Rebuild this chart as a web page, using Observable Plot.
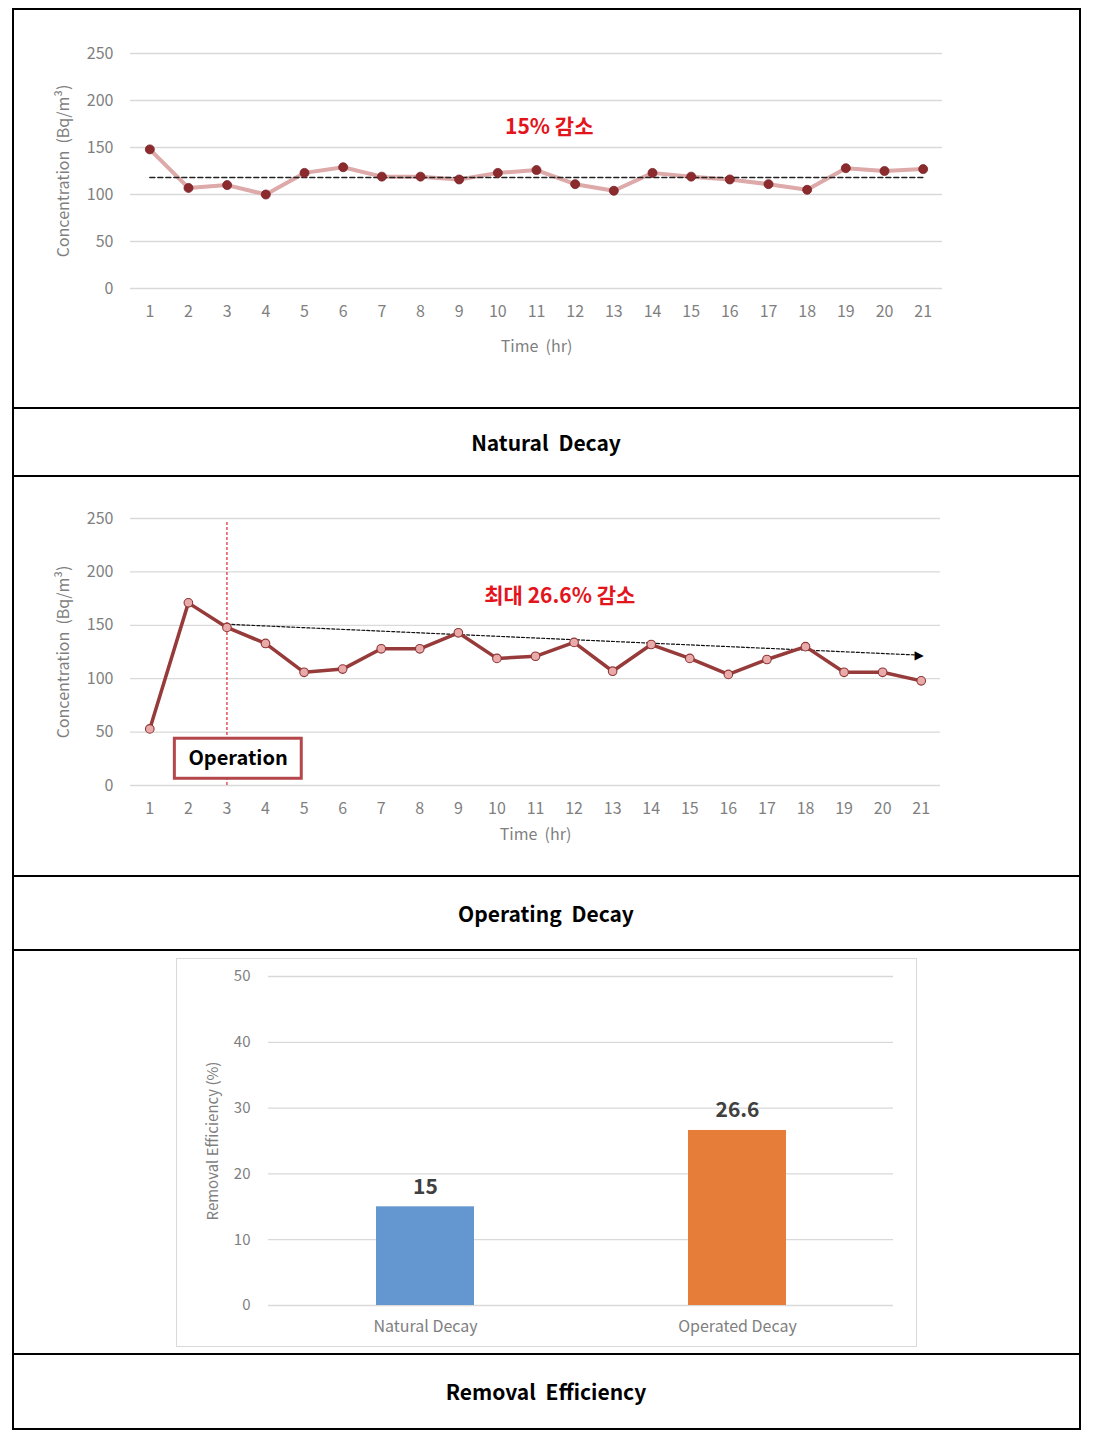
<!DOCTYPE html>
<html><head><meta charset="utf-8">
<script src="https://cdn.jsdelivr.net/npm/d3@7"></script>
<script src="https://cdn.jsdelivr.net/npm/@observablehq/plot@0.6"></script>
<style>
body{margin:0;background:#fff;font-family:"Noto Sans CJK KR","Noto Sans",sans-serif;}
#page{position:relative;width:1096px;height:1439px;overflow:hidden;background:#fff;}
.frame{position:absolute;left:12px;top:8px;width:1069px;height:1422px;border:2px solid #000;box-sizing:border-box;}
.hl{position:absolute;left:12px;width:1069px;height:2px;background:#000;}
.cap{position:absolute;left:12px;width:1068px;text-align:center;font-weight:bold;font-size:21px;color:#000;word-spacing:5px;}
.chart{position:absolute;left:12px;}
.chart svg{display:block;}
.inner{position:absolute;left:176px;top:958px;width:741px;height:389px;border:1.5px solid #d9d9d9;box-sizing:border-box;}
</style>
</head><body>
<div id="page">
  <div class="frame"></div>
  <div class="hl" style="top:407px"></div>
  <div class="hl" style="top:475px"></div>
  <div class="hl" style="top:875px"></div>
  <div class="hl" style="top:949px"></div>
  <div class="hl" style="top:1353px"></div>
  <div class="cap" style="top:408px;height:68px;line-height:68px">Natural Decay</div>
  <div class="cap" style="top:876px;height:74px;line-height:74px">Operating Decay</div>
  <div class="cap" style="top:1354px;height:75px;line-height:75px">Removal Efficiency</div>
  <div class="chart" id="c1" style="top:9px"></div>
  <div class="chart" id="c2" style="top:477px"></div>
  <div class="chart" id="c3" style="top:951px"></div>
  <div class="inner"></div>
</div>
<script>
// ---- data ----
const hours = [1,2,3,4,5,6,7,8,9,10,11,12,13,14,15,16,17,18,19,20,21];
const naturalConc = [148,107,110,100,123,129,119,119,116,123,126,111,104,123,119,116,111,105,128,125,127];
const operatingConc = [53,171,148,133,106,109,128,128,143,119,121,134,107,132,119,104,118,130,106,106,98];
const concTicks = [0,50,100,150,200,250];
const naturalTrendX = [1,21];
const naturalTrendY = [118,118];
const operatingTrendX = [3,21];
const operatingTrendY = [151,122];
const operationStart = 3;
const naturalNote = "15% 감소";
const operatingNote = "최대 26.6% 감소";
const effCategories = ["Natural Decay","Operated Decay"];
const effValues = [15,26.6];
const effColors = ["#6497d0","#e67e39"];
const effTicks = [0,10,20,30,40,50];

const FONT = '"Noto Sans CJK KR","Noto Sans",sans-serif';
const GRID = "#d9d9d9";
const TICKC = "#7f7f7f";

const natData = hours.map((h,i)=>({h, v: naturalConc[i]}));
const opData = hours.map((h,i)=>({h, v: operatingConc[i]}));
const natTrend = naturalTrendX.map((x,i)=>({x, y: naturalTrendY[i]}));
const opTrend = operatingTrendX.map((x,i)=>({x, y: operatingTrendY[i]}));
const effData = effCategories.map((c,i)=>({c, v: effValues[i]}));

function lineAxes(tickPadX, labelOffX){
  return [
    Plot.gridY(concTicks, {stroke: GRID, strokeOpacity: 1, strokeWidth: 1.3}),
    Plot.axisY(concTicks, {tickSize: 0, tickPadding: 17, fill: TICKC, fontSize: 16,
      label: "Concentration\u00a0 (Bq/m³)", labelAnchor: "center", labelOffset: 73, labelArrow: "none"}),
    Plot.axisX(hours, {tickSize: 0, tickPadding: tickPadX, fill: TICKC, fontSize: 16, tickFormat: d => String(d),
      label: "Time\u00a0 (hr)", labelAnchor: "center", labelOffset: labelOffX, labelArrow: "none"})
  ];
}

// ---- Chart 1: Natural decay ----
const p1 = Plot.plot({
  width: 1068, height: 399,
  marginLeft: 118, marginRight: 138, marginTop: 44, marginBottom: 120,
  x: {domain: [0.5, 21.5]},
  y: {domain: [0, 250]},
  style: {fontFamily: FONT, fontSize: "16.5px", color: TICKC, background: "transparent"},
  marks: [
    ...lineAxes(17, 63),
    Plot.line(natData, {x: "h", y: "v", stroke: "#dda9a9", strokeWidth: 4}),
    Plot.line(natTrend, {x: "x", y: "y", stroke: "#222", strokeWidth: 1.5, strokeDasharray: "5,3"}),
    Plot.dot(natData, {x: "h", y: "v", r: 4.5, fill: "#8c2b2e", stroke: "#7a2226", strokeWidth: 0.8}),
    Plot.text([naturalNote], {x: 11.33, y: 172, text: d => d, fill: "#e3141c", fontSize: 21, fontWeight: "bold"})
  ]
});
document.getElementById("c1").appendChild(p1);

// ---- Chart 2: Operating decay ----
const p2 = Plot.plot({
  width: 1068, height: 399,
  marginLeft: 118, marginRight: 140, marginTop: 41, marginBottom: 91,
  x: {domain: [0.5, 21.5]},
  y: {domain: [0, 250]},
  style: {fontFamily: FONT, fontSize: "16.5px", color: TICKC, background: "transparent"},
  marks: [
    ...lineAxes(17, 54),
    Plot.ruleX([operationStart], {y1: 0, y2: 248, stroke: "#e0393e", strokeWidth: 1.3, strokeDasharray: "3,2"}),
    Plot.line(opTrend, {x: "x", y: "y", stroke: "#111", strokeWidth: 1.2, strokeDasharray: "3,2"}),
    Plot.text([opTrend[1]], {x: "x", y: "y", text: () => "▶", fill: "#000", fontSize: 12, dx: -2, fontFamily: "DejaVu Sans"}),
    Plot.line(opData, {x: "h", y: "v", stroke: "#973a3a", strokeWidth: 3.5}),
    Plot.dot(opData, {x: "h", y: "v", r: 4.3, fill: "#e9aaaa", stroke: "#8e3536", strokeWidth: 1.1}),
    Plot.rect([0], {x1: 1.65, x2: 4.94, y1: 6.3, y2: 43.8, fill: "#fff", stroke: "#b3474b", strokeWidth: 3}),
    Plot.text(["Operation"], {x: 3.29, y: 25, text: d => d, fill: "#000", fontSize: 20, fontWeight: "bold"}),
    Plot.text([operatingNote], {x: 11.63, y: 177, text: d => d, fill: "#e3141c", fontSize: 21, fontWeight: "bold"})
  ]
});
document.getElementById("c2").appendChild(p2);

// ---- Chart 3: Removal efficiency ----
const p3 = Plot.plot({
  width: 1068, height: 403,
  marginLeft: 256, marginRight: 187, marginTop: 25, marginBottom: 49,
  x: {domain: effCategories, type: "band", paddingInner: 0.686, paddingOuter: 0.343},
  y: {domain: [0, 50]},
  color: {domain: effCategories, range: effColors},
  style: {fontFamily: FONT, fontSize: "16px", color: TICKC, background: "transparent"},
  marks: [
    Plot.gridY(effTicks, {stroke: GRID, strokeOpacity: 1, strokeWidth: 1.3}),
    Plot.axisY(effTicks, {tickSize: 0, tickPadding: 18, fill: TICKC, fontSize: 15,
      label: "Removal Efficiency (%)", labelAnchor: "center", labelOffset: 61, labelArrow: "none"}),
    Plot.axisX({tickSize: 0, tickPadding: 15, fill: TICKC, fontSize: 16, label: null}),
    Plot.barY(effData, {x: "c", y: "v", fill: "c"}),
    Plot.text(effData, {x: "c", y: "v", text: d => String(d.v), dy: -20, fill: "#404040", fontSize: 21, fontWeight: "bold"})
  ]
});
document.getElementById("c3").appendChild(p3);
</script>
</body></html>
